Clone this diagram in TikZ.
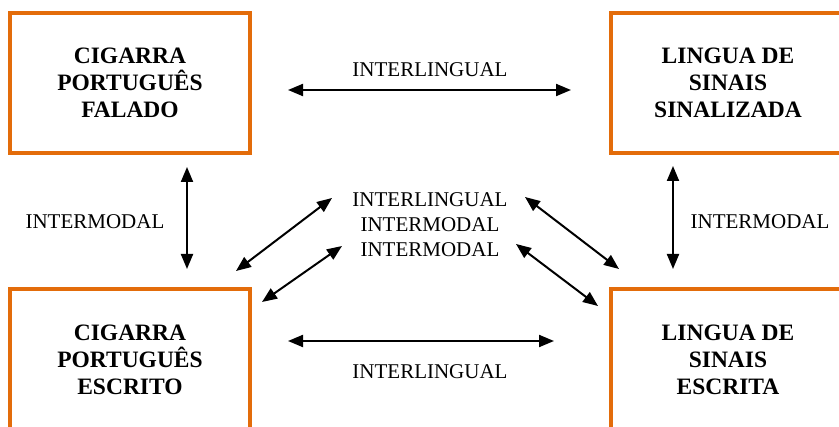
\documentclass[tikz,border=0pt]{standalone}
\usepackage{fontspec}
\setmainfont{Liberation Serif}
\usetikzlibrary{arrows.meta}
\definecolor{boxorange}{RGB}{227,108,10}

\begin{document}
\begin{tikzpicture}[
    x=1pt, y=-1pt,
    modebox/.style={
        rectangle,
        draw=boxorange,
        line width=4pt,
        minimum width=240pt,
        minimum height=140pt,
        inner sep=0pt,
        font=\fontsize{23.5}{27}\selectfont\bfseries,
        align=center
    },
    relation/.style={
        font=\fontsize{21}{25}\selectfont,
        align=center
    },
    link/.style={
        {Triangle[length=15pt,width=12pt]}-{Triangle[length=15pt,width=12pt]},
        line width=2pt
    }
]
\useasboundingbox (0,0) rectangle (839,427);

% Boxes
\node[modebox] (spoken) at (130,83) {CIGARRA\\PORTUGUÊS\\FALADO};
\node[modebox, minimum width=234pt] (signed) at (728,83) {LINGUA DE\\SINAIS\\SINALIZADA};
\node[modebox, minimum height=142pt] (written) at (130,360) {CIGARRA\\PORTUGUÊS\\ESCRITO};
\node[modebox, minimum width=234pt, minimum height=142pt] (signwritten) at (728,360) {LINGUA DE\\SINAIS\\ESCRITA};

% Labels
\node[relation] (toplabel) at (430,70) {INTERLINGUAL};
\node[relation] (bottomlabel) at (430,372) {INTERLINGUAL};
\node[relation] (leftlabel) at (95,222) {INTERMODAL};
\node[relation] (rightlabel) at (760,222) {INTERMODAL};
\node[relation] (midlabel) at (430,225) {INTERLINGUAL\\INTERMODAL\\INTERMODAL};

% Arrow ends
\coordinate (topA) at (288,90);
\coordinate (topB) at (571,90);
\coordinate (botA) at (288,341);
\coordinate (botB) at (554,341);
\coordinate (leftA) at (187,167);
\coordinate (leftB) at (187,269);
\coordinate (rightA) at (673,166);
\coordinate (rightB) at (673,269);
\coordinate (diagA) at (236,271);
\coordinate (diagB) at (332,198);
\coordinate (diagC) at (262,302);
\coordinate (diagD) at (342,246);
\coordinate (diagE) at (525,197);
\coordinate (diagF) at (619,269);
\coordinate (diagG) at (516,244);
\coordinate (diagH) at (598,306);

% Arrows
\draw[link] (topA) -- (topB);
\draw[link] (botA) -- (botB);
\draw[link] (leftA) -- (leftB);
\draw[link] (rightA) -- (rightB);
\draw[link] (diagA) -- (diagB);
\draw[link] (diagC) -- (diagD);
\draw[link] (diagE) -- (diagF);
\draw[link] (diagG) -- (diagH);

\end{tikzpicture}
\end{document}
